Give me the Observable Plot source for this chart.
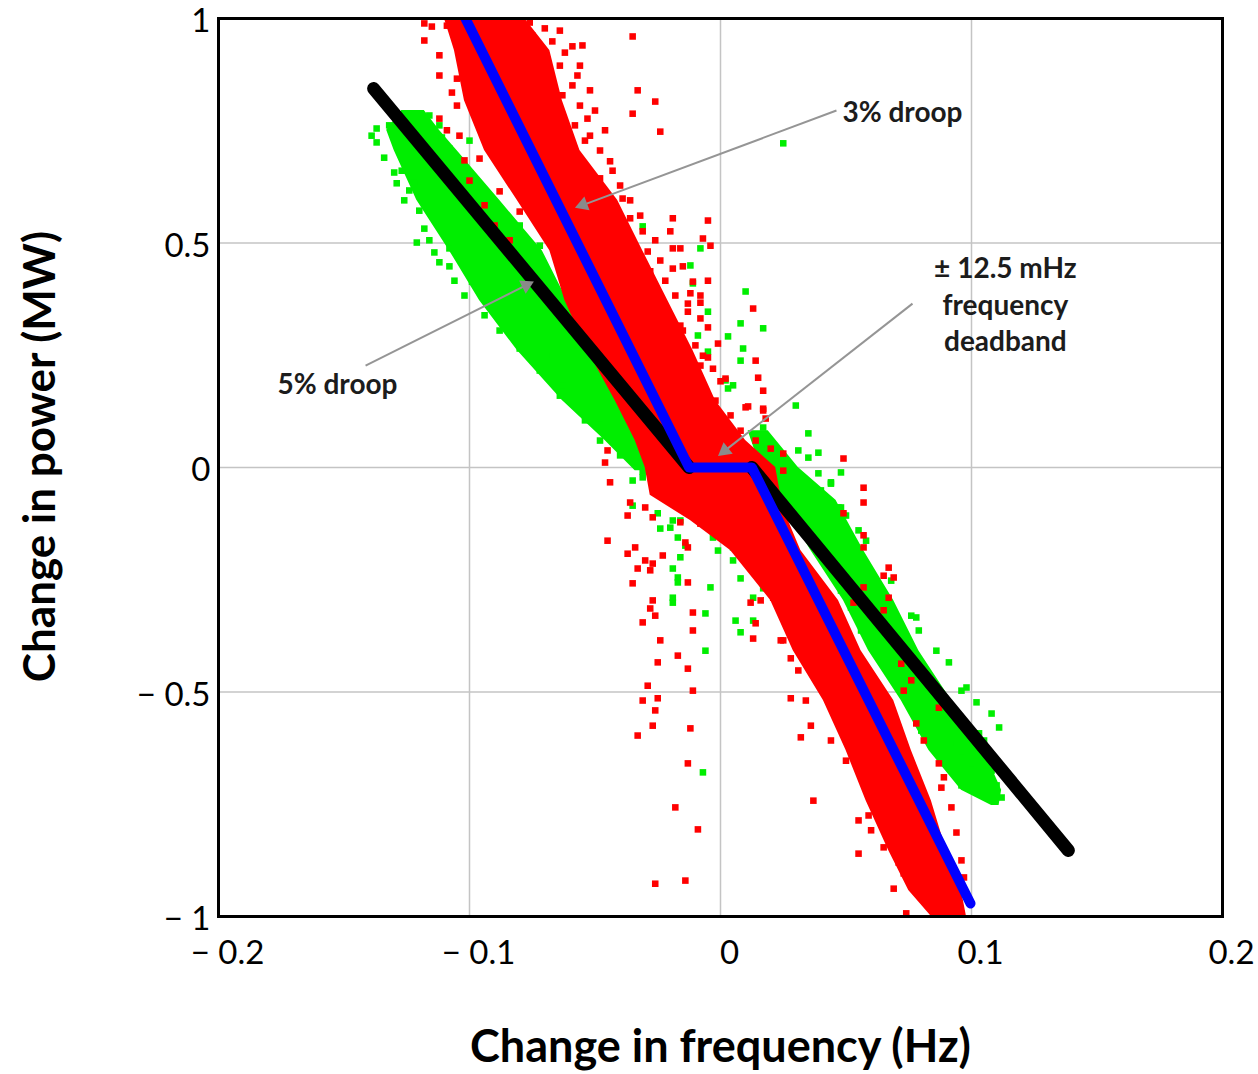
<!DOCTYPE html>
<html>
<head>
<meta charset="utf-8">
<script src="https://cdn.jsdelivr.net/npm/d3@7"></script>
<script src="https://cdn.jsdelivr.net/npm/@observablehq/plot@0.6"></script>
<style>
  html, body { margin: 0; padding: 0; background: #fff; }
</style>
</head>
<body>
<div id="chart"></div>
<script>
// ---- axis ticks ----
const xTicks = [-0.2, -0.1, 0, 0.1, 0.2];
const yTicks = [1, 0.5, 0, -0.5, -1];
const xGrid = [-0.1, 0, 0.1];
const yGrid = [-0.5, 0, 0.5];

// ---- droop characteristics ----
const blueX = [-0.1034, -0.0125, 0.0125, 0.0996];   // 3% droop
const blueY = [1.02, 0, 0, -0.971];
const blackX = [-0.1382, -0.0125, 0.0125, 0.1386];  // 5% droop
const blackY = [0.844, 0, 0, -0.853];
const blackSeg = ["low", "low", "high", "high"];

// ---- dense core of the 3% droop (red) measurements: y, left x, right x ----
const redBandY  = [1.000, 0.929, 0.817, 0.706, 0.595, 0.483, 0.372, 0.261, 0.149, 0.060, 0.000, -0.062, -0.118, -0.185, -0.296, -0.408, -0.519, -0.630, -0.742, -0.853, -0.942, -1.000];
const redBandX1 = [-0.110, -0.106, -0.102, -0.094, -0.081, -0.068, -0.062, -0.053, -0.042, -0.034, -0.030, -0.028, -0.012, 0.004, 0.020, 0.029, 0.041, 0.050, 0.058, 0.067, 0.075, 0.084];
const redBandX2 = [-0.078, -0.068, -0.063, -0.056, -0.041, -0.031, -0.021, -0.011, -0.002, 0.010, 0.022, 0.024, 0.027, 0.032, 0.047, 0.056, 0.069, 0.076, 0.084, 0.090, 0.096, 0.098];

// ---- dense core of the 5% droop (green) measurements ----
const greenUpY  = [0.795, 0.751, 0.706, 0.595, 0.483, 0.372, 0.261, 0.149, 0.060, -0.007];
const greenUpX1 = [-0.127, -0.133, -0.130, -0.121, -0.108, -0.096, -0.081, -0.063, -0.046, -0.034];
const greenUpX2 = [-0.118, -0.112, -0.105, -0.088, -0.071, -0.061, -0.049, -0.036, -0.025, -0.013];
const greenLoY  = [0.082, 0.000, -0.073, -0.185, -0.296, -0.408, -0.519, -0.630, -0.719, -0.753];
const greenLoX1 = [0.011, 0.016, 0.024, 0.036, 0.049, 0.059, 0.072, 0.083, 0.096, 0.108];
const greenLoX2 = [0.019, 0.031, 0.046, 0.057, 0.069, 0.079, 0.092, 0.105, 0.112, 0.111];

// ---- scattered red measurements ----
const redX = [-0.118,-0.115,-0.109,-0.093,-0.086,-0.080,-0.075,-0.067,-0.059,-0.055,-0.035,-0.064,-0.056,-0.059,-0.063,-0.056,-0.053,-0.052,-0.033,-0.026,
  -0.035,-0.024,-0.105,-0.105,-0.112,-0.104,-0.096,-0.088,-0.080,-0.044,-0.048,-0.039,-0.036,-0.031,-0.019,-0.005,-0.020,-0.007,-0.019,-0.016,
  -0.004,-0.029,-0.028,-0.019,-0.015,-0.011,-0.008,-0.013,-0.008,-0.016,-0.024,-0.007,-0.003,0.000,0.011,-0.011,
  -0.005,-0.012,-0.008,-0.013,-0.005,-0.001,-0.005,0.002,0.013,0.014,0.015,0.017,0.010,0.017,0.018,0.025,0.017,-0.045,-0.046,-0.044,0.049,0.025,
  -0.045,-0.037,-0.034,-0.037,-0.030,-0.027,-0.033,-0.028,-0.023,-0.013,-0.014,-0.035,-0.013,-0.027,-0.028,-0.026,-0.031,-0.011,-0.011,-0.024,
  -0.017,-0.025,-0.013,-0.029,-0.025,-0.031,-0.026,-0.011,-0.027,-0.012,-0.033,-0.016,-0.030,-0.027,-0.036,
  -0.013,-0.018,-0.009,-0.026,-0.014,
  0.037,0.032,0.028,0.036,0.031,0.028,0.025,0.014,0.013,0.012,0.021,0.017,0.015,0.007,0.004,-0.008,
  0.057,0.057,0.049,0.057,0.057,0.067,0.065,0.069,0.067,0.065,0.057,0.053,0.072,0.076,0.073,0.087,0.078,0.081,0.087,0.089,
  0.088,0.092,0.094,0.055,0.059,0.065,0.055,0.071,0.073,0.069,0.074,0.081,0.088,0.094,0.096,0.097,
  -0.118,-0.112,-0.112,-0.107,-0.109,-0.102,-0.100,-0.094,-0.090,-0.084,-0.076,-0.070,-0.064,-0.070,-0.062,-0.057,-0.052,-0.050,-0.048,-0.046,
  -0.043,-0.040,-0.036,-0.032,-0.026,-0.024,-0.022,-0.018,-0.015,-0.010,-0.008,-0.006,-0.002,0.004,0.008,0.014,0.020,-0.064,-0.058,-0.054,
  -0.084,-0.088,-0.096,
  0.038,0.046,0.072,0.078,0.050,0.060,0.016,0.024,0.034,0.044];
const redY = [0.989,0.982,0.984,0.978,0.955,0.967,0.962,0.949,0.938,0.940,0.960,0.895,0.895,0.851,0.829,0.806,0.777,0.739,0.840,0.815,
  0.788,0.748,0.866,0.806,0.777,0.739,0.688,0.615,0.570,0.682,0.644,0.599,0.555,0.526,0.555,0.550,0.526,0.510,0.488,0.488,
  0.494,0.481,0.437,0.443,0.448,0.414,0.383,0.347,0.332,0.316,0.332,0.249,0.220,0.192,0.136,0.183,
  0.416,0.388,0.367,0.365,0.312,0.276,0.245,0.198,0.354,0.238,0.200,0.171,0.134,0.131,0.109,0.031,0.127,0.038,0.011,-0.033,0.020,-0.007,
  -0.163,-0.107,-0.178,-0.192,-0.207,-0.214,-0.225,-0.229,-0.196,-0.178,-0.167,-0.258,-0.256,-0.296,-0.314,-0.330,-0.345,-0.323,-0.363,-0.385,
  -0.419,-0.434,-0.448,-0.486,-0.514,-0.519,-0.541,-0.497,-0.575,-0.581,-0.597,-0.122,-0.089,-0.111,-0.078,
  -0.659,-0.757,-0.806,-0.927,-0.920,
  -0.742,-0.601,-0.514,-0.575,-0.452,-0.425,-0.385,-0.347,-0.381,-0.301,-0.290,-0.258,-0.229,-0.156,-0.122,-0.125,
  -0.045,-0.078,-0.102,-0.151,-0.178,-0.223,-0.241,-0.245,-0.290,-0.318,-0.267,-0.301,-0.437,-0.474,-0.497,-0.535,-0.570,-0.608,-0.659,-0.690,
  -0.713,-0.757,-0.813,-0.786,-0.775,-0.846,-0.860,-0.880,-0.904,-0.938,-0.993,-0.942,-0.980,-0.993,-0.875,-0.913,
  0.951,0.918,0.873,0.835,0.751,0.684,0.639,0.584,0.539,0.506,0.991,0.978,0.973,0.918,0.924,0.873,0.840,0.795,0.706,0.751,
  0.661,0.628,0.595,0.561,0.506,0.461,0.416,0.383,0.305,0.272,0.227,0.171,0.149,0.116,0.082,0.060,0.042,0.795,0.762,0.728,
  0.906,0.940,0.962,
  -0.385,-0.497,-0.675,-0.786,-0.653,-0.808,-0.296,-0.385,-0.519,-0.608];

// ---- scattered green measurements ----
const greenX = [-0.137,-0.137,-0.134,-0.130,-0.129,-0.126,-0.122,-0.118,-0.121,-0.114,
  -0.110,-0.111,-0.108,-0.108,-0.108,-0.099,-0.097,-0.088,-0.081,-0.075,
  -0.067,-0.063,-0.056,-0.048,-0.043,-0.031,-0.031,-0.012,-0.011,-0.008,
  0.010,0.008,0.003,0.008,0.002,0.003,-0.005,-0.009,-0.015,-0.005,
  0.017,0.009,0.005,0.022,0.017,0.025,0.030,0.035,0.039,0.031,
  0.044,0.048,0.027,0.035,0.047,-0.035,-0.031,-0.035,-0.025,-0.024,
  -0.020,-0.017,-0.019,-0.016,-0.014,-0.016,-0.019,-0.017,-0.017,-0.019,
  -0.019,-0.004,-0.006,-0.006,-0.003,-0.001,0.005,0.005,0.008,0.013,
  0.017,0.013,0.006,0.008,0.005,-0.007,0.112,0.110,0.108,0.104,
  0.111,0.108,0.102,0.098,0.091,0.079,0.078,0.103,0.105,0.100,
  0.096,0.094,0.092,0.063,0.060,0.052,0.055,0.048,0.044,0.039,
  0.035,
  -0.139,-0.132,-0.127,-0.124,-0.120,-0.116,-0.112,-0.106,-0.102,-0.094,
  -0.088,-0.080,-0.072,-0.064,-0.054,-0.048,-0.040,-0.116,-0.112,-0.104,
  -0.100,-0.096,-0.090,-0.080,-0.072,-0.064,
  0.096,0.086,0.076,0.068,0.058,0.050,0.040,0.074,0.080,0.088,0.096,0.064,0.056,0.048];
const greenY = [0.755,0.724,0.690,0.657,0.633,0.595,0.635,0.532,0.501,0.479,
  0.555,0.735,0.710,0.488,0.448,0.414,0.428,0.372,0.325,0.294,
  0.249,0.183,0.154,0.109,0.065,-0.009,0.537,0.450,0.410,0.488,
  0.392,0.321,0.292,0.238,0.194,0.176,0.258,0.294,0.281,0.347,
  0.310,0.265,0.183,0.045,0.089,0.722,0.138,0.076,0.033,0.038,
  -0.033,-0.011,-0.022,-0.051,-0.089,-0.029,-0.022,-0.085,-0.102,-0.136,
  -0.134,-0.156,-0.118,-0.118,-0.174,-0.200,-0.225,-0.245,-0.256,-0.290,
  -0.301,-0.267,-0.325,-0.408,-0.156,-0.185,-0.178,-0.207,-0.247,-0.290,
  -0.269,-0.341,-0.341,-0.367,-0.140,-0.679,-0.735,-0.708,-0.675,-0.682,
  -0.579,-0.548,-0.523,-0.490,-0.434,-0.363,-0.334,-0.592,-0.608,-0.659,
  -0.646,-0.615,-0.570,-0.423,-0.392,-0.312,-0.140,-0.089,-0.036,-0.013,
  0.022,
  0.739,0.762,0.661,0.617,0.572,0.506,0.457,0.416,0.383,0.339,
  0.305,0.265,0.216,0.160,0.105,0.060,0.027,0.784,0.762,0.684,
  0.728,0.628,0.584,0.539,0.494,0.450,
  -0.497,-0.408,-0.330,-0.252,-0.163,-0.107,-0.051,-0.519,-0.586,-0.653,-0.708,-0.430,-0.363,-0.274];

// ---- annotations ----
const noteText = ["3% droop", "5% droop", "± 12.5 mHz\nfrequency\ndeadband"];
const noteX = [0.0486, -0.1765, 0.1135];
const noteY = [0.795, 0.189, 0.367];
const arrowX1 = [0.0462, -0.1414, 0.0765];
const arrowY1 = [0.795, 0.227, 0.365];
const arrowX2 = [-0.0560, -0.0760, 0.0005];
const arrowY2 = [0.582, 0.410, 0.032];
const headX = [-0.0548, -0.0774, 0.0017];
const headY = [0.585, 0.406, 0.0376];
const headRotate = [249.6, 63.4, 231.9];

// ---- tables built from the arrays ----
const band = (ys, x1s, x2s) => ys.map((y, i) => ({y, x1: x1s[i], x2: x2s[i]}));
const redBand = band(redBandY, redBandX1, redBandX2);
const greenUp = band(greenUpY, greenUpX1, greenUpX2);
const greenLo = band(greenLoY, greenLoX1, greenLoX2);
const redPts = redX.map((x, i) => ({x, y: redY[i]}));
const greenPts = greenX.map((x, i) => ({x, y: greenY[i]}));
const blue = blueX.map((x, i) => ({x, y: blueY[i]}));
const black = blackX.map((x, i) => ({x, y: blackY[i], s: blackSeg[i]}));
const notes = noteText.map((t, i) => ({t, x: noteX[i], y: noteY[i]}));
const arrows = arrowX1.map((x1, i) => ({x1, y1: arrowY1[i], x2: arrowX2[i], y2: arrowY2[i], hx: headX[i], hy: headY[i], r: headRotate[i]}));

const fmt = d => d < 0 ? "\u2212 " + Math.abs(d) : String(d);
const RED = "#ff0000", GREEN = "#00ee00";
const noteStyle = {x: "x", y: "y", text: "t", fontSize: 28, fontWeight: "bold", fill: "#1c1c1c", lineHeight: 1.32};

const chart = Plot.plot({
  width: 1258,
  height: 1074,
  marginLeft: 218,
  marginRight: 36,
  marginTop: 18,
  marginBottom: 158,
  style: {fontFamily: "Lato, 'Open Sans', sans-serif", background: "#fff", color: "#000"},
  x: {domain: [-0.2, 0.2], axis: null, label: null},
  y: {domain: [-1, 1], axis: null, label: null},
  marks: [
    Plot.ruleX(xGrid, {stroke: "#c4c4c4", strokeWidth: 1.5}),
    Plot.ruleY(yGrid, {stroke: "#c4c4c4", strokeWidth: 1.5}),
    Plot.areaX(greenUp, {y: "y", x1: "x1", x2: "x2", fill: GREEN, curve: "linear"}),
    Plot.areaX(greenLo, {y: "y", x1: "x1", x2: "x2", fill: GREEN, curve: "linear"}),
    Plot.dot(greenPts, {x: "x", y: "y", symbol: "square", r: 3.7, fill: GREEN, stroke: "none"}),
    Plot.areaX(redBand, {y: "y", x1: "x1", x2: "x2", fill: RED, curve: "linear"}),
    Plot.dot(redPts, {x: "x", y: "y", symbol: "square", r: 3.7, fill: RED, stroke: "none", clip: true}),
    Plot.line(black, {x: "x", y: "y", z: "s", stroke: "#000", strokeWidth: 13, strokeLinecap: "round", strokeLinejoin: "round", clip: true}),
    Plot.line(blue, {x: "x", y: "y", stroke: "#0000ff", strokeWidth: 10, strokeLinecap: "round", strokeLinejoin: "round", clip: true}),
    Plot.link(arrows, {x1: "x1", y1: "y1", x2: "x2", y2: "y2", stroke: "#959595", strokeWidth: 2}),
    Plot.dot(arrows, {x: "hx", y: "hy", symbol: "triangle", r: 5.5, rotate: "r", fill: "#8a8a8a", stroke: "none"}),
    Plot.text(notes.slice(0, 2), {...noteStyle, textAnchor: "start"}),
    Plot.text(notes.slice(2), {...noteStyle, textAnchor: "middle"}),
    Plot.frame({stroke: "#000", strokeWidth: 3}),
    Plot.axisX(xTicks, {tickSize: 0, tickPadding: 24, tickFormat: fmt, fontSize: 33, dx: 9, label: null}),
    Plot.axisY(yTicks, {tickSize: 0, tickPadding: 8, tickFormat: fmt, fontSize: 33, dy: 3, label: null}),
    Plot.text(["Change in frequency (Hz)"], {frameAnchor: "bottom", textAnchor: "middle", lineAnchor: "middle", dy: 131, fontSize: 45, fontWeight: "bold", fill: "#000"}),
    Plot.text(["Change in power (MW)"], {frameAnchor: "left", textAnchor: "middle", lineAnchor: "middle", rotate: -90, dx: -178, dy: -11, fontSize: 44, fontWeight: "bold", fill: "#000"})
  ]
});
document.getElementById("chart").appendChild(chart);
</script>
</body>
</html>
